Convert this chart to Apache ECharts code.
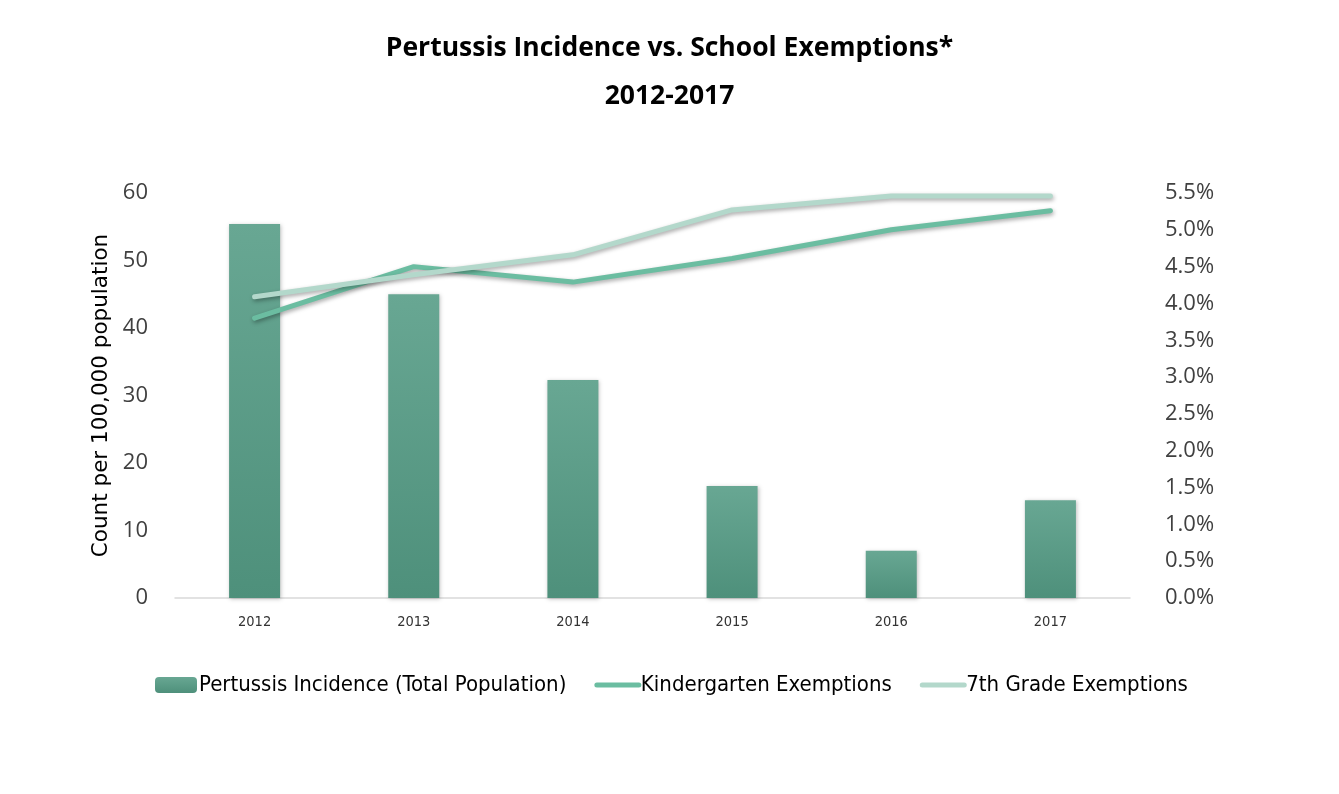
<!DOCTYPE html>
<html>
<head>
<meta charset="utf-8">
<script src="https://cdn.jsdelivr.net/npm/echarts@6/dist/echarts.min.js"></script>
<style>
  html, body { margin: 0; padding: 0; background: #fff; }
  #chart { width: 1339px; height: 794px; }
</style>
</head>
<body>
<div id="chart"></div>
<script>
const years = ['2012', '2013', '2014', '2015', '2016', '2017'];
const pertussisIncidence = [55.4, 45.0, 32.3, 16.6, 7.0, 14.5];
const kindergartenExemptions = [0.0380, 0.0450, 0.0429, 0.0461, 0.0500, 0.0526];
const seventhGradeExemptions = [0.0409, 0.0439, 0.0466, 0.0527, 0.0546, 0.0546];
const leftTicks = { min: 0, max: 60, interval: 10 };
const rightTicks = { min: 0, max: 0.055, interval: 0.005 };

const chart = echarts.init(document.getElementById('chart'));
const narrow = '"DejaVu Sans Condensed", "Open Sans", sans-serif';
chart.setOption({
  animation: false,
  backgroundColor: '#ffffff',
  title: {
    text: 'Pertussis Incidence vs. School Exemptions*\n2012-2017',
    left: 'center',
    top: 24,
    padding: 0,
    textStyle: {
      fontFamily: '"Open Sans", sans-serif',
      fontWeight: 'bold',
      fontSize: 26.5,
      lineHeight: 48,
      color: '#000000'
    }
  },
  legend: {
    left: 155,
    top: 674,
    padding: 0,
    itemWidth: 42,
    itemHeight: 16,
    itemGap: 28,
    textStyle: { fontFamily: narrow, fontSize: 22, color: '#000000', padding: [0, 0, 0, -3] },
    data: [
      { name: 'Pertussis Incidence (Total Population)' },
      { name: 'Kindergarten Exemptions', itemStyle: { opacity: 0 }, lineStyle: { width: 5, color: '#6bbda1', cap: 'round' } },
      { name: '7th Grade Exemptions', itemStyle: { opacity: 0 }, lineStyle: { width: 5, color: '#b3d8cb', cap: 'round' } }
    ]
  },
  grid: { left: 175, right: 209, top: 193, bottom: 196 },
  xAxis: {
    type: 'category',
    data: years,
    axisLine: { lineStyle: { color: '#d9d9d9', width: 1.5 } },
    axisTick: { show: false },
    axisLabel: { fontFamily: narrow, fontSize: 14.5, color: '#333333', margin: 17 }
  },
  yAxis: [
    {
      type: 'value',
      min: leftTicks.min, max: leftTicks.max, interval: leftTicks.interval,
      name: 'Count per 100,000 population',
      nameLocation: 'middle',
      nameRotate: 90,
      nameGap: 58,
      nameTextStyle: { fontFamily: '"DejaVu Sans", sans-serif', fontSize: 21.5, color: '#000000' },
      splitLine: { show: false },
      axisLine: { show: false },
      axisTick: { show: false },
      axisLabel: { fontFamily: '"Open Sans", sans-serif', fontSize: 22, color: '#404040', margin: 27 }
    },
    {
      type: 'value',
      min: rightTicks.min, max: rightTicks.max, interval: rightTicks.interval,
      position: 'right',
      splitLine: { show: false },
      axisLine: { show: false },
      axisTick: { show: false },
      axisLabel: {
        fontFamily: '"Open Sans", sans-serif', fontSize: 22, color: '#404040', margin: 35,
        formatter: v => (v * 100).toFixed(1) + '%'
      }
    }
  ],
  series: [
    {
      name: 'Pertussis Incidence (Total Population)',
      type: 'bar',
      yAxisIndex: 0,
      data: pertussisIncidence,
      barWidth: 51,
      itemStyle: {
        color: new echarts.graphic.LinearGradient(0, 0, 0, 1, [
          { offset: 0, color: '#68a793' },
          { offset: 1, color: '#4e907b' }
        ]),
        shadowColor: 'rgba(0,0,0,0.25)',
        shadowBlur: 4,
        shadowOffsetX: 1,
        shadowOffsetY: 1
      }
    },
    {
      name: 'Kindergarten Exemptions',
      type: 'line',
      yAxisIndex: 1,
      data: kindergartenExemptions,
      symbol: 'none',
      itemStyle: { color: '#6bbda1' },
      lineStyle: {
        width: 5, color: '#6bbda1', cap: 'round', join: 'round',
        shadowColor: 'rgba(0,0,0,0.35)', shadowBlur: 4, shadowOffsetX: 1, shadowOffsetY: 2
      }
    },
    {
      name: '7th Grade Exemptions',
      type: 'line',
      yAxisIndex: 1,
      data: seventhGradeExemptions,
      symbol: 'none',
      itemStyle: { color: '#b3d8cb' },
      lineStyle: {
        width: 5, color: '#b3d8cb', cap: 'round', join: 'round',
        shadowColor: 'rgba(0,0,0,0.35)', shadowBlur: 4, shadowOffsetX: 1, shadowOffsetY: 2
      }
    }
  ]
});
</script>
</body>
</html>
